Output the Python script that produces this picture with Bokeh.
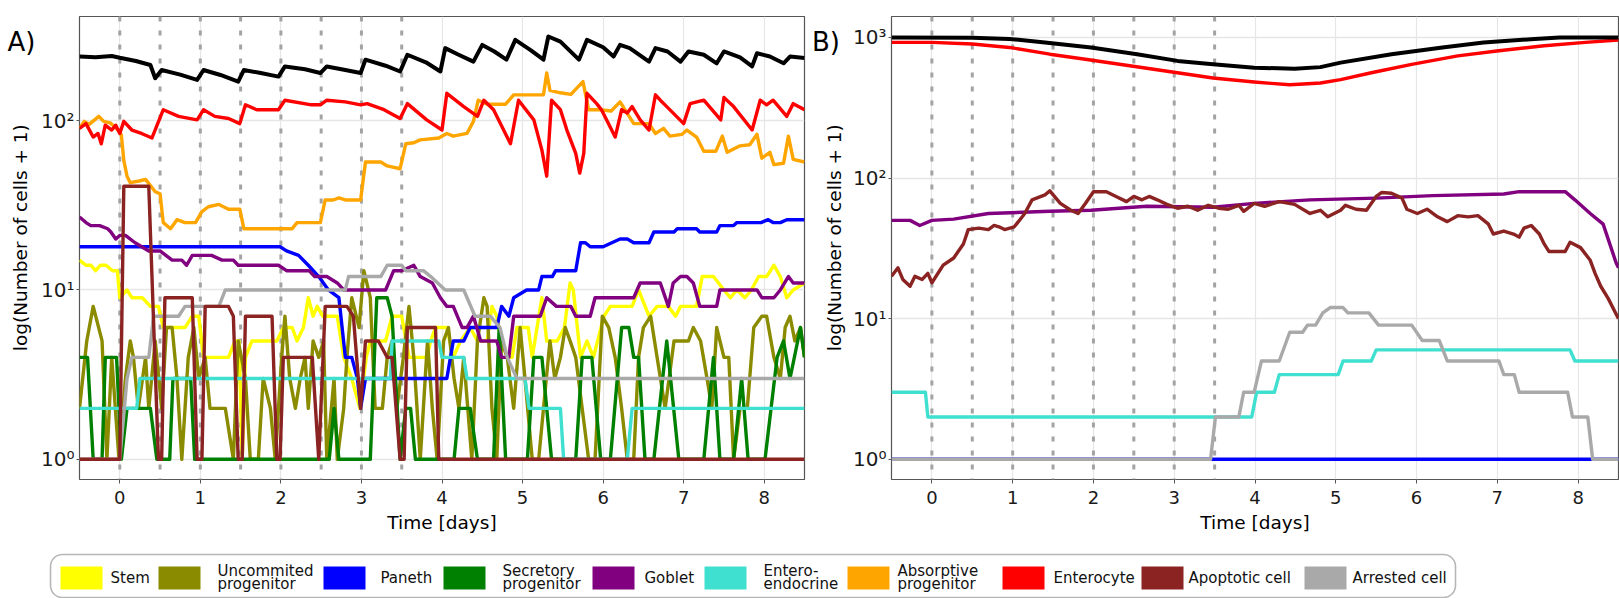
import math
from bokeh.plotting import figure
from bokeh.layouts import column, row
from bokeh.models import Range1d, FixedTicker, Span, BoxAnnotation
from bokeh.core.properties import value
from bokeh.embed import file_html
from bokeh.resources import INLINE

# ---------------- data (number of cells; plotted as cells + 1) ----------------
days = [0, 1, 2, 3, 4, 5, 6, 7, 8]
treatment_days = [0, 0.5, 1, 1.5, 2, 2.5, 3, 3.5]
decade_labels = {1: "10⁰", 10: "10¹", 100: "10²", 1000: "10³"}
y_title = "log(Number of cells + 1)"
x_title = "Time [days]"
panel_letters = ["A)", "B)"]

cell_types = ["Stem", "Uncommited\nprogenitor", "Paneth", "Secretory\nprogenitor", "Goblet",
              "Entero-\nendocrine", "Absorptive\nprogenitor", "Enterocyte", "Apoptotic cell", "Arrested cell"]
cell_colors = ["#FFFF00", "#8B8B00", "#0000FF", "#008000", "#800080",
               "#40E0D0", "#FFA500", "#FF0000", "#8B2323", "#A9A9A9"]
total_color = "#000000"

# ---- Panel A : (time [days], number of cells)
total_a = [(-0.5,238),(-0.3,236),(-0.1,240),(0.0,234),(0.2,224),(0.38,212),(0.44,177),(0.52,198),(0.75,186),(0.96,173),
           (1.04,198),(1.25,185),(1.47,169),(1.54,198),(1.75,190),(1.97,181),(2.05,208),(2.3,200),(2.49,190),(2.57,208),
           (2.8,198),(2.99,190),(3.05,228),(3.3,210),(3.48,194),(3.57,244),(3.8,220),(3.98,194),(4.04,267),(4.2,245),
           (4.39,222),(4.5,279),(4.65,255),(4.8,228),(4.91,299),(5.1,260),(5.26,228),(5.32,313),(5.47,292),(5.7,228),
           (5.8,299),(6.0,270),(6.13,238),(6.21,279),(6.33,267),(6.57,222),(6.65,267),(6.8,255),(6.96,222),(7.06,255),
           (7.25,244),(7.41,217),(7.5,255),(7.7,235),(7.85,208),(7.91,249),(8.07,238),(8.24,217),(8.32,238),(8.5,233)]
enterocyte_a = [(-0.5,89),(-0.42,95),(-0.33,79),(-0.27,83),(-0.23,72),(-0.18,93),(-0.1,87),(-0.05,93),(0.0,83),(0.05,98),
                (0.15,87),(0.27,83),(0.4,78),(0.54,115),(0.73,105),(0.96,100),(1.04,115),(1.18,105),(1.35,102),(1.49,95),
                (1.56,123),(1.7,115),(1.97,115),(2.05,131),(2.38,123),(2.49,123),(2.57,131),(2.8,128),(2.99,123),(3.07,125),
                (3.28,115),(3.48,102),(3.57,125),(3.81,100),(4.0,87),(4.06,144),(4.27,120),(4.44,105),(4.52,131),(4.64,115),
                (4.85,72),(4.95,131),(5.14,100),(5.24,66),(5.3,46),(5.36,131),(5.47,115),(5.55,87),(5.66,63),(5.71,48),
                (5.76,63),(5.8,144),(5.92,125),(5.98,115),(6.15,79),(6.23,115),(6.3,110),(6.36,120),(6.46,100),(6.57,87),
                (6.65,141),(6.71,131),(6.79,120),(7.0,95),(7.08,125),(7.25,131),(7.46,100),(7.5,136),(7.62,120),(7.85,87),
                (7.95,131),(8.03,123),(8.11,131),(8.28,105),(8.36,125),(8.5,115)]
absorptive_a = [(-0.5,89),(-0.44,98),(-0.38,94),(-0.26,105),(-0.2,98),(-0.12,96),(0.0,85),(0.02,81),(0.05,57),(0.09,46),
                (0.13,42),(0.24,43),(0.32,44),(0.44,37),(0.5,36),(0.54,24),(0.63,22),(0.71,25),(0.81,24),(0.94,24),
                (1.02,28),(1.1,30),(1.23,31),(1.35,29),(1.49,29),(1.54,22),(2.14,22),(2.2,24),(2.49,24),(2.55,33),
                (2.65,33),(2.72,34),(2.8,33),(2.99,33),(3.05,56),(3.24,56),(3.32,53),(3.48,51),(3.55,72),(3.65,73),
                (3.73,76),(3.96,78),(4.06,83),(4.14,80),(4.31,83),(4.39,98),(4.45,131),(4.56,124),(4.79,124),(4.89,141),
                (5.26,141),(5.3,190),(5.34,150),(5.47,145),(5.6,142),(5.75,169),(5.82,115),(5.96,115),(6.1,113),(6.21,128),
                (6.38,95),(6.57,95),(6.65,83),(6.75,89),(6.83,80),(6.98,82),(7.04,87),(7.16,79),(7.25,65),(7.4,65),
                (7.48,80),(7.54,64),(7.7,70),(7.82,71),(7.91,82),(7.97,59),(8.07,64),(8.12,54),(8.24,55),(8.3,80),
                (8.36,58),(8.5,56)]
paneth_a = [(-0.5,17),(1.99,17),(2.07,16),(2.22,15),(2.34,13),(2.47,11),(2.59,9),(2.72,8),(2.8,3),(2.88,3),
            (2.95,2),(2.99,1),(3.05,2),(4.06,2),(4.14,4),(4.27,4),(4.35,5),(4.68,5),(4.74,7),(4.83,6),
            (4.89,8),(5.05,9),(5.2,9),(5.24,11),(5.37,11),(5.41,12),(5.66,12),(5.72,18),(5.78,18),(5.84,17),
            (6.0,17),(6.21,19),(6.3,19),(6.38,18),(6.57,18),(6.63,21),(6.88,21),(6.92,22),(7.16,22),(7.2,21),
            (7.41,21),(7.45,23),(7.62,23),(7.66,24),(7.96,24),(8.05,25),(8.11,24),(8.2,24),(8.28,25),(8.5,25)]
goblet_a = [(-0.5,26),(-0.42,24),(-0.36,23),(-0.25,23),(-0.15,22),(-0.11,21),(-0.05,19),(0.0,20),(0.07,20),(0.19,18),
            (0.36,16),(0.5,16),(0.65,14),(0.77,14),(0.83,13),(0.9,15),(1.14,15),(1.27,14),(1.41,14),(1.47,13),
            (1.97,13),(2.07,12),(2.35,12),(2.42,11),(2.57,11),(2.7,10),(2.78,9),(3.3,9),(3.4,12),(3.5,12),
            (3.65,13),(3.73,11),(3.88,10),(3.98,8),(4.06,7),(4.14,7),(4.25,5),(4.31,5),(4.39,6),(4.48,4),
            (4.68,4),(4.74,3),(4.83,3),(4.89,6),(5.22,6),(5.3,8),(5.42,7),(5.6,7),(5.66,6),(5.84,6),
            (5.9,8),(6.38,8),(6.46,10),(6.71,10),(6.81,7),(6.87,10),(6.96,11),(7.04,11),(7.12,10),(7.2,7),
            (7.41,7),(7.45,9),(7.91,9),(7.97,8),(8.12,8),(8.2,9),(8.3,11),(8.36,10),(8.5,10)]
stem_a = [(-0.5,14),(-0.42,13),(-0.36,13),(-0.3,12),(-0.24,13),(-0.17,13),(-0.09,12),(-0.03,12),(0.0,8),(0.09,9),
          (0.15,8),(0.28,8),(0.38,7),(0.48,7),(0.54,5),(0.68,5),(0.81,5),(0.9,6),(0.98,6),(1.04,3),
          (1.35,3),(1.43,4),(1.48,4),(1.52,0),(1.56,3),(1.64,4),(1.95,4),(2.03,5),(2.14,5),(2.2,4),
          (2.28,5),(2.34,8),(2.4,6),(2.45,7),(2.52,6),(2.7,6),(2.78,3),(2.88,2),(2.98,1),(3.06,3),
          (3.11,4),(3.3,4),(3.38,6),(3.5,6),(3.59,3),(3.81,3),(3.86,4),(3.92,5),(4.06,5),(4.14,3),
          (4.23,4),(4.35,5),(4.44,4),(4.56,4),(4.62,7),(4.68,6),(4.74,4),(4.81,3),(4.87,3),(4.93,5),
          (5.07,5),(5.12,3),(5.18,5),(5.24,8),(5.3,4),(5.43,4),(5.52,5),(5.59,10),(5.63,9),(5.72,3),
          (5.8,4),(5.88,3),(6.01,6),(6.09,7),(6.15,7),(6.36,7),(6.44,9),(6.57,6),(6.67,7),(6.81,7),
          (6.9,6),(6.96,7),(7.16,7),(7.23,11),(7.37,11),(7.5,9),(7.58,8),(7.66,9),(7.76,8),(7.84,9),
          (7.93,11),(8.03,11),(8.12,13),(8.2,11),(8.28,8),(8.36,9),(8.5,10)]
uncommitted_a = [(-0.5,1),(-0.41,4),(-0.33,7),(-0.22,4),(-0.16,0),(-0.1,3),(-0.01,0),(0.07,2),(0.13,4),(0.17,3),
                 (0.23,1),(0.32,3),(0.36,1),(0.44,4),(0.52,1),(0.58,5),(0.65,5),(0.71,2),(0.77,0),(0.85,3),
                 (0.92,5),(0.98,2),(1.06,3),(1.12,1),(1.31,1),(1.41,0),(1.47,4),(1.56,2),(1.62,0),(1.72,0),
                 (1.78,2),(1.87,1),(1.93,0),(2.01,3),(2.05,6),(2.11,2),(2.18,1),(2.24,2),(2.3,3),(2.34,1),
                 (2.4,4),(2.47,3),(2.53,4),(2.57,0),(2.66,2),(2.7,0),(2.78,1),(2.82,3),(2.88,8),(2.97,5),
                 (3.03,12),(3.11,8),(3.17,1),(3.26,1),(3.32,3),(3.38,4),(3.44,1),(3.52,3),(3.59,7),(3.65,3),
                 (3.73,0),(3.82,4),(3.88,1),(3.94,0),(4.02,4),(4.08,5),(4.15,2),(4.21,1),(4.27,3),(4.37,0),
                 (4.44,4),(4.52,8),(4.56,7),(4.62,1),(4.68,0),(4.74,4),(4.81,3),(4.89,1),(4.97,5),(5.03,2),
                 (5.12,0),(5.2,0),(5.26,1),(5.34,4),(5.4,2),(5.47,3),(5.53,5),(5.59,4),(5.66,3),(5.74,1),
                 (5.82,0),(5.9,0),(5.99,6),(6.07,5),(6.15,3),(6.23,1),(6.3,0),(6.38,0),(6.44,3),(6.5,5),
                 (6.59,6),(6.67,3),(6.77,1),(6.88,4),(7.06,4),(7.12,5),(7.21,4),(7.29,2),(7.35,1),(7.41,5),
                 (7.5,3),(7.56,3),(7.62,0),(7.7,1),(7.79,1),(7.87,5),(7.97,6),(8.03,6),(8.12,3),(8.2,2),
                 (8.26,5),(8.32,6),(8.38,4),(8.45,5),(8.5,3)]
secretory_a = [(-0.5,3),(-0.4,3),(-0.33,0),(-0.22,0),(-0.18,3),(-0.04,3),(0.02,0),(0.09,1),(0.38,1),(0.46,0),
               (0.62,0),(0.66,2),(0.88,2),(0.93,0),(2.6,0),(2.66,1),(2.72,0),(3.11,0),(3.19,8),(3.32,8),
               (3.38,6),(3.48,0),(3.55,1),(3.61,1),(3.67,0),(4.15,0),(4.21,1),(4.35,1),(4.44,0),(4.64,0),
               (4.71,5),(4.79,0),(5.06,0),(5.14,3),(5.24,3),(5.3,1),(5.36,0),(5.66,0),(5.74,3),(5.86,3),
               (5.97,0),(6.09,0),(6.23,5),(6.32,5),(6.38,3),(6.44,3),(6.52,0),(6.63,0),(6.79,4),(6.94,0),
               (7.25,0),(7.37,3),(7.45,0),(7.62,0),(7.72,2),(7.8,0),(8.01,0),(8.16,3),(8.24,4),(8.32,2),
               (8.45,5),(8.5,3)]
entero_a = [(-0.5,1),(0.21,1),(0.25,2),(3.36,2),(3.38,4),(3.96,4),(4.0,3),(4.27,3),(4.31,2),(5.03,2),
            (5.08,1),(5.47,1),(5.51,0),(6.3,0),(6.36,1),(8.5,1)]
arrested_a = [(-0.5,0),(0.0,0),(0.09,2),(0.15,3),(0.36,3),(0.42,6),(0.73,6),(0.81,7),(1.23,7),(1.31,9),
              (2.8,9),(2.84,11),(3.24,11),(3.32,13),(3.5,13),(3.55,12),(3.77,12),(3.86,11),(4.04,9),(4.27,9),
              (4.41,6),(4.6,6),(4.72,5),(4.81,3),(4.93,2),(8.5,2)]
apoptotic_a = [(-0.5,0),(0.0,0),(0.05,40),(0.36,40),(0.48,0),(0.52,0),(0.56,8),(0.9,8),(0.96,0),(1.02,0),
               (1.06,7),(1.35,7),(1.41,6),(1.47,0),(1.52,0),(1.56,6),(1.89,6),(1.95,0),(1.99,0),(2.03,3),
               (2.39,3),(2.47,0),(2.55,7),(2.82,7),(2.9,6),(2.99,1),(3.05,4),(3.21,4),(3.32,3),(3.38,3),
               (3.48,0),(3.53,0),(3.57,5),(3.92,5),(3.96,0),(8.5,0)]

# ---- Panel B : (time [days], number of cells)
total_b = [(-0.5,1000),(0.5,995),(0.96,975),(1.4,921),(1.97,848),(2.54,759),(3.04,680),(3.48,643),(3.99,608),(4.49,598),
           (4.81,614),(5.06,661),(5.69,759),(6.32,848),(6.83,921),(7.46,974),(7.77,999),(8.5,1000)]
enterocyte_b = [(-0.5,921),(0.0,921),(0.5,897),(0.96,848),(1.46,759),(1.9,699),(2.47,626),(3.04,560),(3.48,514),(3.99,481),
                (4.2,470),(4.43,460),(4.6,465),(4.81,473),(5.06,500),(5.44,560),(5.94,643),(6.51,738),(7.02,803),(7.58,872),
                (8.09,921),(8.5,958)]
goblet_b = [(-0.5,49),(-0.27,49),(-0.15,45),(0.0,49),(0.27,50),(0.7,55),(1.46,57),(1.97,58),(2.66,62),(3.48,61),
            (3.99,65),(4.68,69),(5.5,71),(6.2,74),(7.08,76),(7.27,79),(7.84,79),(7.96,69),(8.15,55),(8.31,46),
            (8.47,24),(8.5,22)]
apoptotic_b = [(-0.5,19),(-0.42,22),(-0.36,18),(-0.27,16),(-0.21,19),(-0.12,18),(-0.05,20),(0.0,17),(0.14,23),(0.27,26),
               (0.39,33),(0.45,42),(0.58,43),(0.7,42),(0.77,45),(0.83,44),(0.9,42),(1.02,44),(1.15,55),(1.24,69),
               (1.4,75),(1.46,80),(1.59,65),(1.72,58),(1.81,55),(1.9,65),(2.0,79),(2.16,79),(2.28,73),(2.41,67),
               (2.5,73),(2.6,69),(2.69,73),(2.79,69),(2.91,64),(3.04,60),(3.17,62),(3.29,58),(3.42,63),(3.55,60),
               (3.67,59),(3.8,63),(3.86,57),(3.99,65),(4.12,62),(4.3,67),(4.49,64),(4.68,55),(4.81,58),(4.9,52),
               (5.06,58),(5.12,63),(5.25,59),(5.38,58),(5.5,73),(5.57,78),(5.69,77),(5.82,71),(5.88,59),(6.01,55),
               (6.13,59),(6.26,52),(6.38,48),(6.51,53),(6.64,52),(6.76,53),(6.89,46),(6.95,39),(7.08,41),(7.2,39),
               (7.27,37),(7.33,43),(7.42,45),(7.52,39),(7.58,33),(7.64,29),(7.84,29),(7.9,34),(8.03,31),(8.15,25),
               (8.21,20),(8.28,16),(8.37,13),(8.5,9)]
arrested_b = [(-0.5,0),(3.45,0),(3.51,1),(3.8,1),(3.86,2),(3.99,2),(4.08,4),(4.3,4),(4.43,7),(4.59,7),
              (4.65,8),(4.75,8),(4.84,10),(4.93,11),(5.09,11),(5.15,10),(5.41,10),(5.53,8),(5.94,8),(6.07,6),
              (6.28,6),(6.38,4),(7.02,4),(7.08,3),(7.21,3),(7.27,2),(7.87,2),(7.93,1),(8.12,1),(8.18,0),(8.5,0)]
entero_b = [(-0.5,2),(-0.08,2),(-0.05,1),(3.96,1),(4.02,2),(4.24,2),(4.3,3),(5.03,3),(5.09,4),(5.44,4),
            (5.5,5),(7.9,5),(7.96,4),(8.5,4)]
paneth_b = [(-0.5,0),(8.5,0)]

# drawing order: (series, colour index) ; None index -> total (black)
panel_a = [(stem_a,0),(uncommitted_a,1),(paneth_a,2),(secretory_a,3),(goblet_a,4),(entero_a,5),
           (absorptive_a,6),(enterocyte_a,7),(arrested_a,9),(apoptotic_a,8),(total_a,None)]
panel_b = [(paneth_b,2),(entero_b,5),(goblet_b,4),(enterocyte_b,7),(arrested_b,9),(apoptotic_b,8),(total_b,None)]

FONT = "DejaVu Sans"
FIG_H = 540
STRIP_W = 38


def make_strip(letter, letter_x, title_x):
    """narrow strip holding the panel letter and the rotated y-axis title"""
    s = figure(width=STRIP_W, height=FIG_H, x_range=Range1d(0, STRIP_W), y_range=Range1d(FIG_H, 0),
               x_axis_type=None, y_axis_type=None, output_backend="svg", toolbar_location=None,
               min_border_left=0, min_border_right=0, min_border_top=0, min_border_bottom=0,
               background_fill_color="white", border_fill_color="white")
    s.outline_line_color = None
    s.grid.visible = False
    s.text(x=[letter_x], y=[30], text=[letter], text_font=value(FONT), text_font_size="26px",
           text_align="center", text_baseline="middle", text_color="black")
    s.text(x=[title_x], y=[258], text=[y_title], angle=math.pi / 2, text_font=value(FONT),
           text_font_size="18.5px", text_align="center", text_baseline="middle", text_color="black")
    return s


def make_panel(series, y_start, y_end, yticks, width, left, right):
    p = figure(width=width, height=FIG_H, x_range=Range1d(-0.5, 8.5), y_range=Range1d(y_start, y_end),
               y_axis_type="log", output_backend="svg", toolbar_location=None,
               min_border_left=left, min_border_right=right, min_border_top=16, min_border_bottom=61,
               background_fill_color="white", border_fill_color="white")
    p.outline_line_color = "#555555"
    p.outline_line_width = 1.2
    p.xaxis.ticker = FixedTicker(ticks=days)
    p.yaxis.ticker = FixedTicker(ticks=yticks)
    p.yaxis.major_label_overrides = {t: decade_labels[t] for t in yticks}
    p.xgrid.grid_line_color = "#e6e6e6"
    p.ygrid.grid_line_color = "#e6e6e6"
    p.xgrid.grid_line_width = 1.2
    p.ygrid.grid_line_width = 1.5
    p.axis.axis_line_color = None
    p.axis.minor_tick_line_color = None
    p.axis.major_tick_line_color = "#555555"
    p.axis.major_tick_in = 0
    p.axis.major_tick_out = 4
    p.yaxis.major_tick_out = 3
    p.axis.major_label_text_font = FONT
    p.axis.major_label_text_color = "#1a1a1a"
    p.xaxis.major_label_text_font_size = "18px"
    p.yaxis.major_label_text_font_size = "20px"
    p.xaxis.major_label_standoff = 7
    p.yaxis.major_label_standoff = 2
    p.axis.axis_label_text_font = FONT
    p.axis.axis_label_text_font_style = "normal"
    p.axis.axis_label_text_font_size = "18.5px"
    p.axis.axis_label_text_color = "#000000"
    p.xaxis.axis_label = x_title
    p.xaxis.axis_label_standoff = 5

    for d in treatment_days:
        p.add_layout(Span(location=d, dimension="height", line_color="#a3a3a3", line_width=3,
                          line_dash="5 9", level="underlay"))

    for data, ci in series:
        t = [a for a, _ in data]
        n = [b + 1 for _, b in data]
        col = total_color if ci is None else cell_colors[ci]
        p.line(t, n, line_color=col, line_width=4 if ci is None else 3.4, line_join="round")
    return p


sA = make_strip(panel_letters[0], 21, 19.6)
pA = make_panel(panel_a, 0.76, 412, [1, 10, 100], 812 - STRIP_W, 79 - STRIP_W, 8)
sB = make_strip(panel_letters[1], 13.5, 22)
pB = make_panel(panel_b, 0.718, 1409, [1, 10, 100, 1000], 1619 - 812 - STRIP_W, 79 - STRIP_W, 1)

# ---------------- legend strip ----------------
legend_swatch_left = [60, 158, 323, 443, 592, 704, 847, 1002, 1141, 1304]
legend_text_left = [110, 217, 380, 502, 644, 763, 897, 1053, 1188, 1352]

pl = figure(width=1619, height=58, x_range=Range1d(0, 1619), y_range=Range1d(58, 0),
            x_axis_type=None, y_axis_type=None, output_backend="svg", toolbar_location=None,
            min_border_left=0, min_border_right=0, min_border_top=0, min_border_bottom=0,
            background_fill_color="white", border_fill_color="white")
pl.outline_line_color = None
pl.grid.visible = False
pl.add_layout(BoxAnnotation(left=50, right=1455, top=14, bottom=57, fill_color=None, fill_alpha=0,
                            line_color="#111111", line_width=1.6, border_radius=12))
pl.quad(left=legend_swatch_left, right=[x + 42 for x in legend_swatch_left], top=[26] * 10, bottom=[49] * 10,
        fill_color=cell_colors, line_color=None)
tx, ty, tt = [], [], []
for x, lab in zip(legend_text_left, cell_types):
    lines = lab.split("\n")
    ys = [37] if len(lines) == 1 else [30.5, 43.5]
    for yy, ln in zip(ys, lines):
        tx.append(x); ty.append(yy); tt.append(ln)
pl.text(x=tx, y=ty, text=tt, text_font=value(FONT), text_font_size="15px", text_baseline="middle",
        text_align="left", text_color="#111111")

layout = column(row(sA, pA, sB, pB, spacing=0), pl, spacing=0)
open("out.html", "w").write(file_html(layout, INLINE))
